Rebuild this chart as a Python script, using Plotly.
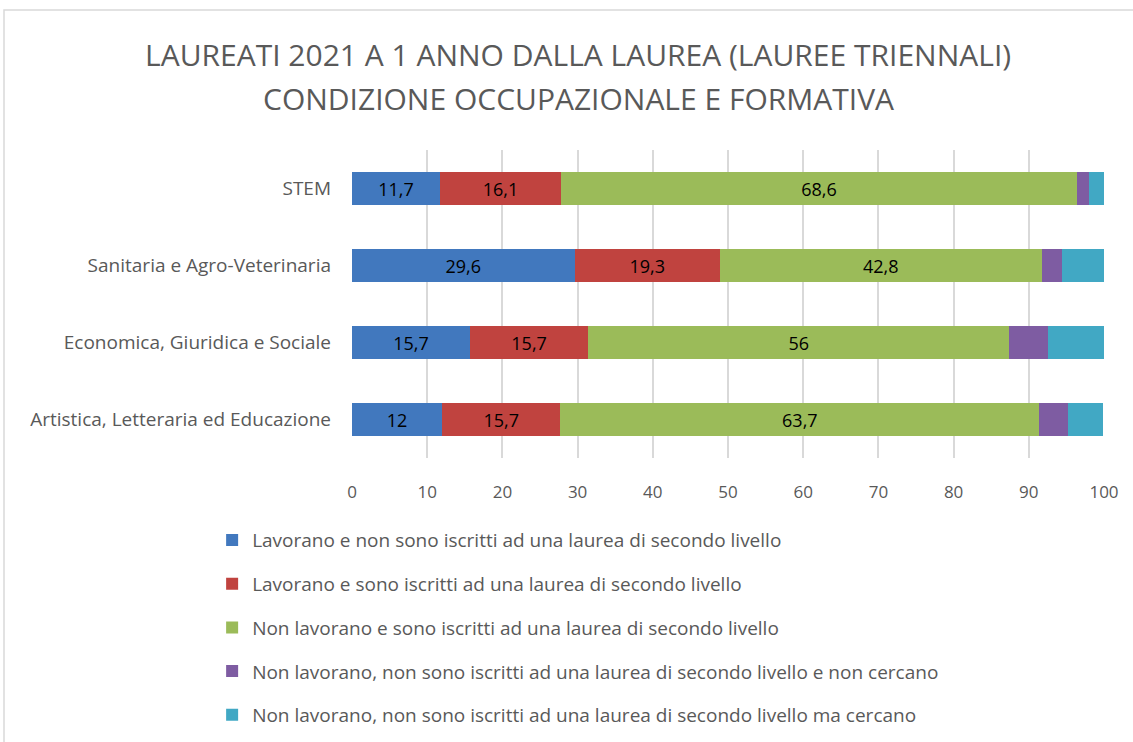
import plotly.graph_objects as go

categories = ["STEM", "Sanitaria e Agro-Veterinaria", "Economica, Giuridica e Sociale",
              "Artistica, Letteraria ed Educazione"]
series_names = [
    "Lavorano e non sono iscritti ad una laurea di secondo livello",
    "Lavorano e sono iscritti ad una laurea di secondo livello",
    "Non lavorano e sono iscritti ad una laurea di secondo livello",
    "Non lavorano, non sono iscritti ad una laurea di secondo livello e non cercano",
    "Non lavorano, non sono iscritti ad una laurea di secondo livello ma cercano",
]
lav_non_iscritti = [11.7, 29.6, 15.7, 12]
lav_iscritti = [16.1, 19.3, 15.7, 15.7]
nonlav_iscritti = [68.6, 42.8, 56, 63.7]
nonlav_noncercano = [1.6, 2.7, 5.1, 3.8]
nonlav_cercano = [2.0, 5.6, 7.5, 4.7]
series_values = [lav_non_iscritti, lav_iscritti, nonlav_iscritti, nonlav_noncercano, nonlav_cercano]
colors = ["#4178BE", "#C0433F", "#9BBB59", "#7E5CA2", "#41A8C4"]
show_labels = [True, True, True, False, False]
x_ticks = list(range(0, 101, 10))
title_lines = ["LAUREATI 2021 A 1 ANNO DALLA LAUREA (LAUREE TRIENNALI)",
               "CONDIZIONE OCCUPAZIONALE E FORMATIVA"]

FONT = "Open Sans"
W, H = 1133, 742
L, R, T, B = 352, 29, 150, 284
PW, PH = W - L - R, H - T - B

fig = go.Figure()
for i, (name, vals, col, lab) in enumerate(zip(series_names, series_values, colors, show_labels)):
    fig.add_trace(go.Bar(
        y=categories, x=vals, name=name, orientation="h",
        marker=dict(color=col, line=dict(width=0)),
        text=[("%g" % v).replace(".", ",") for v in vals] if lab else None,
        textposition="inside" if lab else "none",
        insidetextanchor="middle",
        textfont=dict(family=FONT, size=18, color="#000000"),
        legendgroup="g%d" % i,
    ))

for k, (line, ypx) in enumerate(zip(title_lines, [55, 98])):
    fig.add_annotation(text=line, xref="paper", yref="paper",
                       x=(578 - L) / PW, y=(H - B - ypx) / PH,
                       xanchor="center", yanchor="middle", showarrow=False,
                       font=dict(family=FONT, size=30, color="#595959"))

fig.update_layout(
    barmode="stack",
    bargap=0.58,
    width=W, height=H,
    margin=dict(l=L, r=R, t=T, b=B, autoexpand=False),
    paper_bgcolor="white", plot_bgcolor="white",
    font=dict(family=FONT, color="#595959"),
    xaxis=dict(range=[0, 100], tickvals=x_ticks, showgrid=True, gridcolor="#D9D9D9", gridwidth=1.5,
               zeroline=False, showline=False, ticks="", ticklabelstandoff=22,
               tickfont=dict(size=17, color="#595959")),
    yaxis=dict(categoryorder="array", categoryarray=categories[::-1], showgrid=False,
               ticks="", ticklabelstandoff=20, tickfont=dict(size=19, color="#595959")),
    legend=dict(orientation="v", x=-0.186, xanchor="left", y=-0.205, yanchor="top",
                font=dict(family=FONT, size=19, color="#595959"), tracegroupgap=16,
                itemwidth=30, traceorder="grouped"),
    showlegend=True,
)
fig.add_shape(type="rect", xref="paper", yref="paper",
              x0=(4 - L) / PW, x1=(W + 10 - L) / PW,
              y0=(H - B - H - 10) / PH, y1=(H - B - 10) / PH,
              line=dict(color="#D9D9D9", width=1.5), layer="below")
fig.write_html("out.html", config={"displayModeBar": False},
               post_script="document.body.style.margin='0';")
